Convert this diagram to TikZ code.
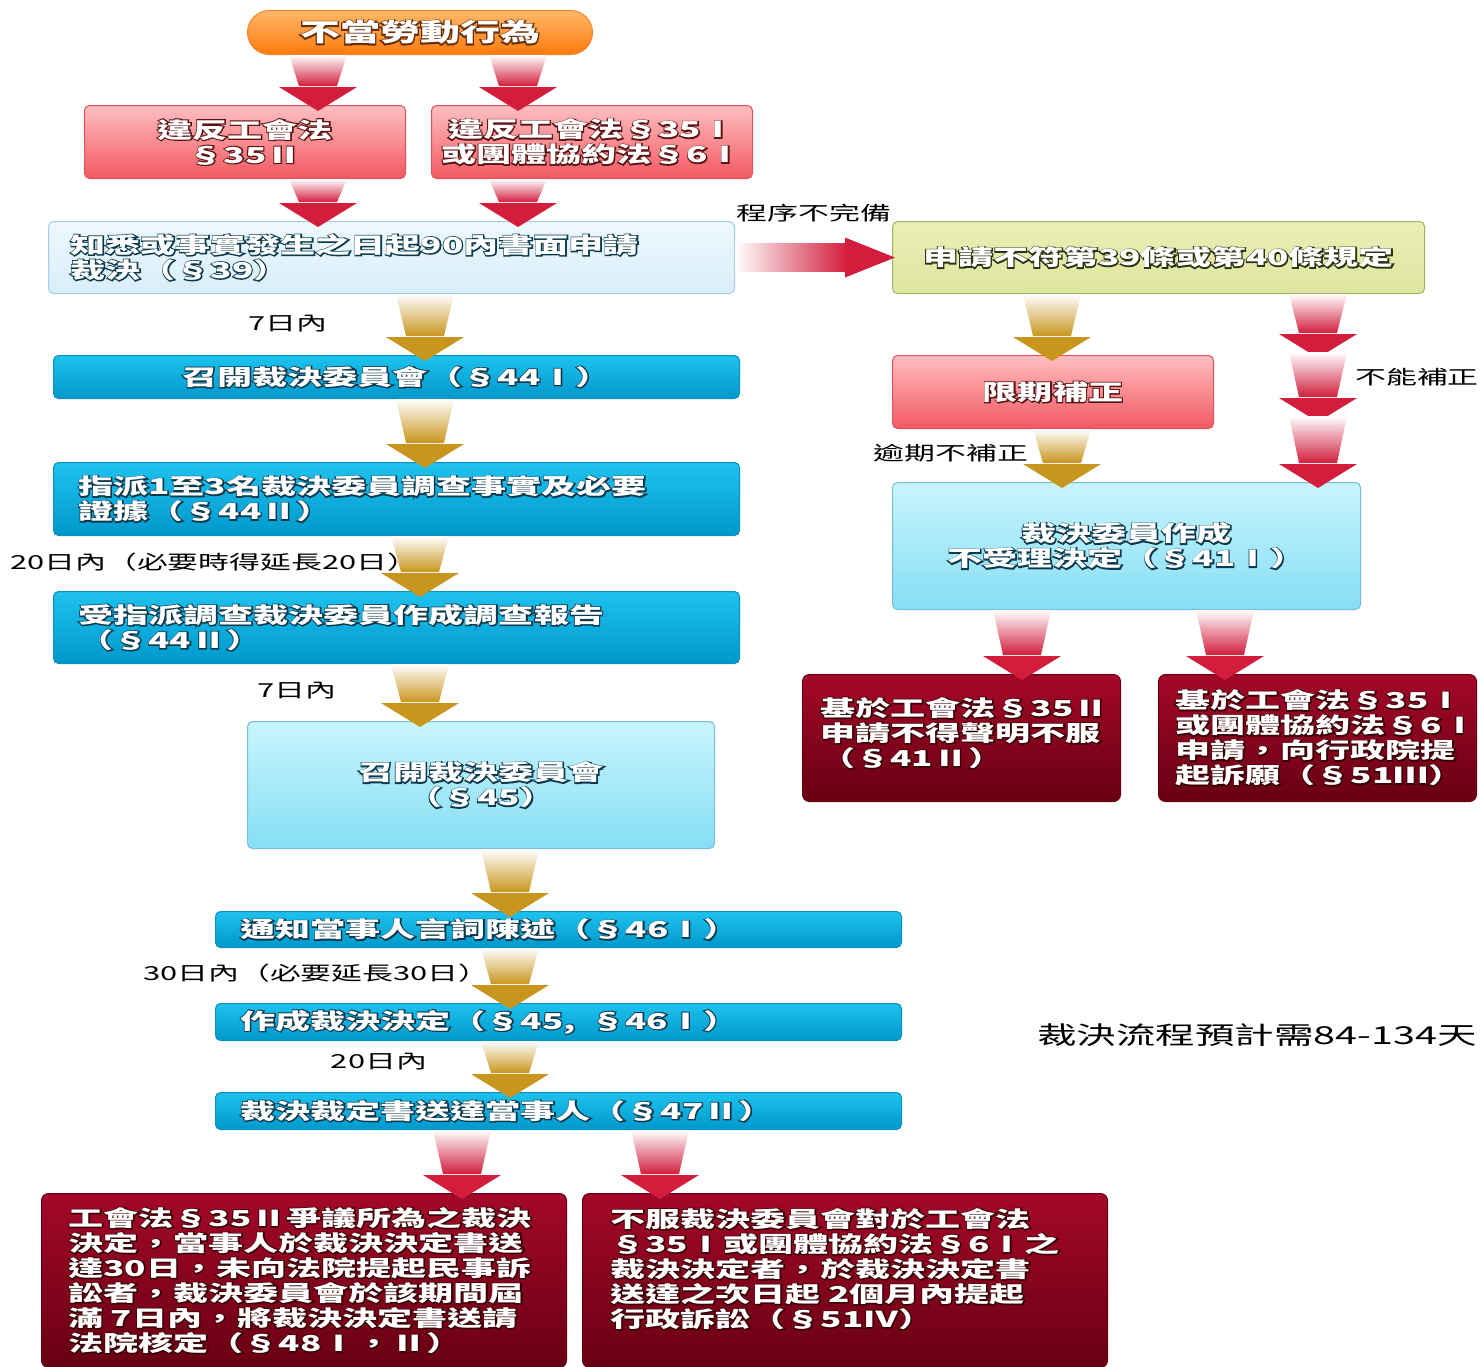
\documentclass[tikz,border=0pt]{standalone}
\usepackage{fontspec}
\newfontfamily\cjk[FakeStretch=1.6]{Noto Sans CJK TC}
\newfontfamily\cjkglow[FakeStretch=1.6,FakeBold=10]{Noto Sans CJK TC}
\usetikzlibrary{calc}
\definecolor{arrred}{HTML}{D21E3C}
\definecolor{arrgold}{HTML}{C8961E}
\definecolor{bluetop}{HTML}{1EC2EE}
\definecolor{bluebot}{HTML}{0098CC}
\definecolor{blueline}{HTML}{0A90BE}
\definecolor{pbluetop}{HTML}{EEF8FE}
\definecolor{pbluebot}{HTML}{D8EEFA}
\definecolor{pblueline}{HTML}{A4CDE6}
\definecolor{cyantop}{HTML}{C8F5FD}
\definecolor{cyanbot}{HTML}{86DEF5}
\definecolor{cyanline}{HTML}{78BCD6}
\definecolor{redtop}{HTML}{FFBFC0}
\definecolor{redbot}{HTML}{F25862}
\definecolor{redline}{HTML}{E2525C}
\definecolor{drtop}{HTML}{A40828}
\definecolor{drbot}{HTML}{680012}
\definecolor{yeltop}{HTML}{EAEEB4}
\definecolor{yelbot}{HTML}{DDE6A0}
\definecolor{yelline}{HTML}{A6AE6A}
\definecolor{ortop}{HTML}{FFB868}
\definecolor{orbot}{HTML}{FF7A0E}
\definecolor{orline}{HTML}{F08428}
\definecolor{gteal}{HTML}{0B3A4E}
\definecolor{gred}{HTML}{5A1414}
\definecolor{gbrown}{HTML}{6A3008}
\definecolor{golive}{HTML}{2E3212}
\definecolor{gdark}{HTML}{380006}
\newcommand\boxfont{\fontsize{21.9}{25}\selectfont\bfseries}
\newcommand\lblfont{\cjk\fontsize{19.3}{22}\selectfont}
% glowing box: name, box style, position, size/text options, glow colour, text
\newcommand\gbox[6]{%
  \node[#2, #4, font=\cjkglow\boxfont, text=#5] (#1) at #3 {#6};
  \node[#4, inner sep=0pt, font=\cjk\boxfont, text=white] at (#1.center) {#6};
}
% vertical block arrow: colour, from, to
\newcommand\varrow[3]{%
  \path[shade, top color=white, middle color=#1!55, bottom color=#1] let \p1=#2, \p2=#3 in
    (\x1-29pt,\y1) -- (\x1+29pt,\y1) -- (\x1+19pt,\y2+19pt) -- (\x1-19pt,\y2+19pt) -- cycle;
  \fill[#1] let \p1=#2, \p2=#3 in
    (\x1-39pt,\y2+18pt) -- (\x1+39pt,\y2+18pt) -- (\x1,\y2-6pt) -- cycle;
}
% horizontal block arrow: colour, from, to
\newcommand\harrow[3]{%
  \path[shade, left color=white, middle color=#1!55, right color=#1] let \p1=#2, \p2=#3 in
    (\x1,\y1-14pt) -- (\x2-45pt,\y1-14pt) -- (\x2-45pt,\y1+14pt) -- (\x1,\y1+14pt) -- cycle;
  \fill[#1] let \p1=#2, \p2=#3 in
    (\x2-47pt,\y1-20pt) -- (\x2+3pt,\y1) -- (\x2-47pt,\y1+20pt) -- cycle;
}
\begin{document}
\begin{tikzpicture}[x=1pt,y=-1pt,
  box/.style={rounded corners=5pt, line width=1pt, inner sep=0pt, anchor=north west},
  bluebox/.style={box, top color=bluetop, bottom color=bluebot, draw=blueline},
  paleblue/.style={box, top color=pbluetop, bottom color=pbluebot, draw=pblueline},
  cyanbox/.style={box, top color=cyantop, bottom color=cyanbot, draw=cyanline},
  redbox/.style={box, top color=redtop, bottom color=redbot, draw=redline},
  drbox/.style={box, rounded corners=7pt, top color=drtop, bottom color=drbot, draw=drbot},
  yelbox/.style={box, top color=yeltop, bottom color=yelbot, draw=yelline},
  pillbox/.style={box, rounded corners=22pt, top color=ortop, bottom color=orbot, draw=orline},
  lbl/.style={font=\lblfont, text=black, inner sep=0pt}]
\useasboundingbox[fill=white] (0,0) rectangle (1483,1366);

\begingroup
\renewcommand\boxfont{\fontsize{25}{28}\selectfont\bfseries}
\gbox{pill}{pillbox}{(247,10)}{minimum width=345pt, minimum height=44pt}{gbrown}{不當勞動行為}
\endgroup
\gbox{A}{redbox}{(84,105)}{minimum width=321pt, minimum height=73pt, align=center}{gred}{違反工會法\\§35Ⅱ}
\gbox{B}{redbox}{(431,105)}{minimum width=321pt, minimum height=73pt, align=center}{gred}{違反工會法§35Ⅰ\\或團體協約法§6Ⅰ}
\gbox{n4}{paleblue}{(48,221)}{minimum width=686pt, minimum height=72pt, text width=642pt, align=left}{gteal}{知悉或事實發生之日起90內書面申請\\裁決（§39）}
\gbox{n5}{yelbox}{(892,221)}{minimum width=532pt, minimum height=72pt}{golive}{申請不符第39條或第40條規定}
\gbox{n6}{bluebox}{(53,355)}{minimum width=686pt, minimum height=43pt}{gteal}{召開裁決委員會（§44Ⅰ）}
\gbox{n7}{bluebox}{(53,462)}{minimum width=686pt, minimum height=73pt, text width=636pt, align=left}{gteal}{指派1至3名裁決委員調查事實及必要\\證據（§44Ⅱ）}
\gbox{n8}{bluebox}{(53,591)}{minimum width=686pt, minimum height=72pt, text width=636pt, align=left}{gteal}{受指派調查裁決委員作成調查報告\\（§44Ⅱ）}
\gbox{n9}{cyanbox}{(247,721)}{minimum width=467pt, minimum height=127pt, align=center}{gteal}{召開裁決委員會\\（§45）}
\gbox{n10}{bluebox}{(215,911)}{minimum width=686pt, minimum height=36pt, text width=636pt, align=left}{gteal}{通知當事人言詞陳述（§46Ⅰ）}
\gbox{n11}{bluebox}{(215,1003)}{minimum width=686pt, minimum height=37pt, text width=636pt, align=left}{gteal}{作成裁決決定（§45, \ §46Ⅰ）}
\gbox{n12}{bluebox}{(215,1092)}{minimum width=686pt, minimum height=37pt, text width=636pt, align=left}{gteal}{裁決裁定書送達當事人（§47Ⅱ）}
\gbox{n13}{drbox}{(41,1193)}{minimum width=525pt, minimum height=174pt, text width=471pt, align=left}{gdark}{工會法§35Ⅱ爭議所為之裁決\\決定，當事人於裁決決定書送\\達30日，未向法院提起民事訴\\訟者，裁決委員會於該期間屆\\滿 7日內，將裁決決定書送請\\法院核定（§48Ⅰ，Ⅱ）}
\gbox{n14}{drbox}{(582,1193)}{minimum width=525pt, minimum height=174pt, text width=469pt, align=left}{gdark}{不服裁決委員會對於工會法\\ §35Ⅰ或團體協約法§6Ⅰ之\\裁決決定者，於裁決決定書\\送達之次日起 2個月內提起\\行政訴訟（§51Ⅳ）\\~}
\gbox{n15}{redbox}{(892,355)}{minimum width=321pt, minimum height=73pt}{gred}{限期補正}
\gbox{n16}{cyanbox}{(892,482)}{minimum width=468pt, minimum height=127pt, align=center}{gteal}{裁決委員作成\\不受理決定（§41Ⅰ）}
\gbox{n17}{drbox}{(802,674)}{minimum width=318pt, minimum height=127pt, text width=282pt, align=left}{gdark}{基於工會法§35Ⅱ\\申請不得聲明不服\\（§41Ⅱ）\\[-13pt]\mbox{}}
\gbox{n18}{drbox}{(1158,674)}{minimum width=318pt, minimum height=127pt, text width=284pt, align=left}{gdark}{基於工會法§35Ⅰ\\或團體協約法§6Ⅰ\\申請，向行政院提\\起訴願（§51Ⅲ）}

\coordinate (r1) at (1318,352);
\coordinate (r2) at (1318,416);

% red arrows
\varrow{arrred}{(318,0 |- pill.south)}{(318,0 |- A.north)}
\varrow{arrred}{(518,0 |- pill.south)}{(518,0 |- B.north)}
\varrow{arrred}{(318,0 |- A.south)}{(318,0 |- n4.north)}
\varrow{arrred}{(518,0 |- B.south)}{(518,0 |- n4.north)}
\harrow{arrred}{(n4.east)}{(n5.west)}
\varrow{arrred}{(1318,0 |- n5.south)}{(r1)}
\varrow{arrred}{(r1)}{(r2)}
\varrow{arrred}{(r2)}{(1318,0 |- n16.north)}
\varrow{arrred}{(1022,0 |- n16.south)}{(1022,0 |- n17.north)}
\varrow{arrred}{(1225,0 |- n16.south)}{(1225,0 |- n18.north)}
\varrow{arrred}{(462,0 |- n12.south)}{(462,0 |- n13.north)}
\varrow{arrred}{(660,0 |- n12.south)}{(660,0 |- n14.north)}
% gold arrows
\varrow{arrgold}{(425,0 |- n4.south)}{(425,0 |- n6.north)}
\varrow{arrgold}{(425,0 |- n6.south)}{(425,0 |- n7.north)}
\varrow{arrgold}{(420,0 |- n7.south)}{(420,0 |- n8.north)}
\varrow{arrgold}{(420,0 |- n8.south)}{(420,0 |- n9.north)}
\varrow{arrgold}{(510,0 |- n9.south)}{(510,0 |- n10.north)}
\varrow{arrgold}{(510,0 |- n10.south)}{(510,0 |- n11.north)}
\varrow{arrgold}{(510,0 |- n11.south)}{(510,0 |- n12.north)}
\varrow{arrgold}{(1052,0 |- n5.south)}{(1052,0 |- n15.north)}
\varrow{arrgold}{(1062,0 |- n15.south)}{(1062,0 |- n16.north)}

% labels
\node[lbl] (l1) at (814,213) {程序不完備};
\node[lbl] (l2) at (288,324) {7日內};
\node[lbl] (l3) at (1417,377) {不能補正};
\node[lbl] (l4) at (951,453) {逾期不補正};
\node[lbl, anchor=west] (l5) at (10,562) {20日內（必要時得延長20日）};
\node[lbl] (l6) at (297,691) {7日內};
\node[lbl, anchor=west] (l7) at (143,973) {30日內（必要延長30日）};
\node[lbl] (l8) at (379,1062) {20日內};
\node[lbl, font=\cjk\fontsize{24.7}{28}\selectfont, anchor=west] (l9) at (1037,1035) {裁決流程預計需84-134天};
\end{tikzpicture}
\end{document}
